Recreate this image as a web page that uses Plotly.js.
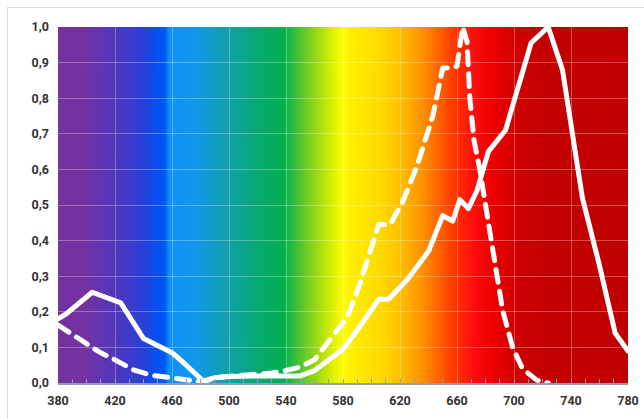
<!DOCTYPE html>
<html>
<head>
<meta charset="utf-8">
<script src="https://cdn.plot.ly/plotly-3.0.1.min.js"></script>
<style>
html, body { margin: 0; padding: 0; background: #ffffff; }
#frame { position: absolute; left: 7px; top: 7px; width: 700px; height: 500px; border-left: 1px solid #dcdcdc; border-top: 1px solid #dcdcdc; }
#chart { position: absolute; left: 0; top: 0; width: 644px; height: 419px; }
.scatterlayer .js-line { stroke-linecap: round !important; stroke-linejoin: round !important; }
</style>
</head>
<body>
<div id="frame"></div>
<div id="chart"></div>
<script>
// Solid curve
const solidX = [380, 386, 404, 424, 440, 460, 470, 482, 490, 500, 520, 540, 550, 560, 580, 592, 605, 612, 625, 640, 650, 657, 662, 668, 674, 682, 694, 712, 724, 734, 748, 760, 771, 780];
const solidY = [0.18, 0.195, 0.255, 0.225, 0.125, 0.085, 0.05, 0.005, 0.015, 0.018, 0.02, 0.02, 0.02, 0.035, 0.095, 0.16, 0.235, 0.235, 0.29, 0.37, 0.47, 0.455, 0.515, 0.49, 0.54, 0.65, 0.71, 0.955, 1.0, 0.88, 0.52, 0.33, 0.14, 0.09];
// Dashed curve
const dashX = [380, 399, 409, 420, 433, 445, 456, 470, 482, 490, 500, 510, 520, 530, 540, 550, 560, 571, 583, 592, 601, 605, 613, 622, 632, 643, 650, 656, 660, 664, 667, 669, 672, 676, 680, 682, 687, 692, 699, 706, 716, 724];
const dashY = [0.163, 0.115, 0.087, 0.065, 0.037, 0.022, 0.017, 0.008, 0.003, 0.015, 0.02, 0.022, 0.025, 0.028, 0.035, 0.045, 0.065, 0.12, 0.185, 0.28, 0.40, 0.445, 0.445, 0.51, 0.61, 0.75, 0.885, 0.885, 0.89, 1.0, 0.96, 0.8, 0.68, 0.6, 0.5, 0.45, 0.33, 0.205, 0.1, 0.04, 0.008, 0.0];
// Tick values
const xTicks = [380, 420, 460, 500, 540, 580, 620, 660, 700, 740, 780];
const yTicks = [0, 0.1, 0.2, 0.3, 0.4, 0.5, 0.6, 0.7, 0.8, 0.9, 1.0];
// Spectrum background colour stops (wavelength nm, colour)
const specNm = [380, 400, 422, 440, 449, 455, 458, 476, 499, 518, 538, 557, 573, 580, 585, 608, 620, 636, 648, 660, 671, 683, 702, 718, 780];
const specCol = ['#7531a0', '#7431a2', '#4c38c0', '#2a40d8', '#0650f0', '#0058f2', '#1090f8', '#1098ec', '#10a0a8', '#08a878', '#00b050', '#80d020', '#e0f000', '#ffff00', '#fff000', '#ffd800', '#ffc000', '#ff9000', '#ff6000', '#ff3000', '#ff1010', '#f00000', '#d00000', '#c40000', '#c00000'];

// build background gradient image
const cv = document.createElement('canvas');
cv.width = 800; cv.height = 4;
const ctx = cv.getContext('2d');
const g = ctx.createLinearGradient(0, 0, 800, 0);
for (let i = 0; i < specNm.length; i++) {
  g.addColorStop((specNm[i] - 380) / 400, specCol[i]);
}
ctx.fillStyle = g;
ctx.fillRect(0, 0, 800, 4);
const bgImg = cv.toDataURL('image/png');

const traces = [
  { x: solidX, y: solidY, type: 'scatter', mode: 'lines',
    line: { color: '#ffffff', width: 5 }, hoverinfo: 'skip', showlegend: false },
  { x: dashX, y: dashY, type: 'scatter', mode: 'lines',
    line: { color: '#ffffff', width: 5, dash: '13px,9px' }, hoverinfo: 'skip', showlegend: false }
];

const layout = {
  width: 644, height: 419,
  margin: { l: 58, r: 16, t: 27, b: 36 },
  paper_bgcolor: 'rgba(0,0,0,0)',
  plot_bgcolor: 'rgba(0,0,0,0)',
  separators: ',.',
  font: { family: 'Roboto, sans-serif', size: 12, color: '#333333' },
  xaxis: {
    range: [380, 780], tickvals: xTicks, ticktext: xTicks.map(String),
    showgrid: true, gridcolor: 'rgba(255,255,255,0.3)', gridwidth: 1,
    zeroline: false, showline: true, linecolor: '#8f9cbc', linewidth: 1.5,
    ticks: 'inside', ticklen: 4, tickcolor: '#8f9cbc',
    ticklabelstandoff: 5,
    minor: { dtick: 10, tick0: 380, ticks: 'inside', ticklen: 4, tickcolor: '#8f9cbc', showgrid: false },
    tickfont: { family: 'Roboto, sans-serif', size: 12.5, color: '#333333', weight: 'bold' },
    fixedrange: true
  },
  yaxis: {
    range: [0, 1], tickvals: yTicks, tickformat: '.1f',
    showgrid: true, gridcolor: 'rgba(255,255,255,0.3)', gridwidth: 1,
    zeroline: false, showline: false, ticks: '',
    ticklabelstandoff: 8,
    tickfont: { family: 'Roboto, sans-serif', size: 12.5, color: '#333333', weight: 'bold' },
    fixedrange: true
  },
  images: [{ source: bgImg, xref: 'x', yref: 'y', x: 380, y: 1, sizex: 400, sizey: 1,
    sizing: 'stretch', layer: 'below', xanchor: 'left', yanchor: 'top' }]
};

Plotly.newPlot('chart', traces, layout, { displayModeBar: false, staticPlot: true });
</script>
</body>
</html>
